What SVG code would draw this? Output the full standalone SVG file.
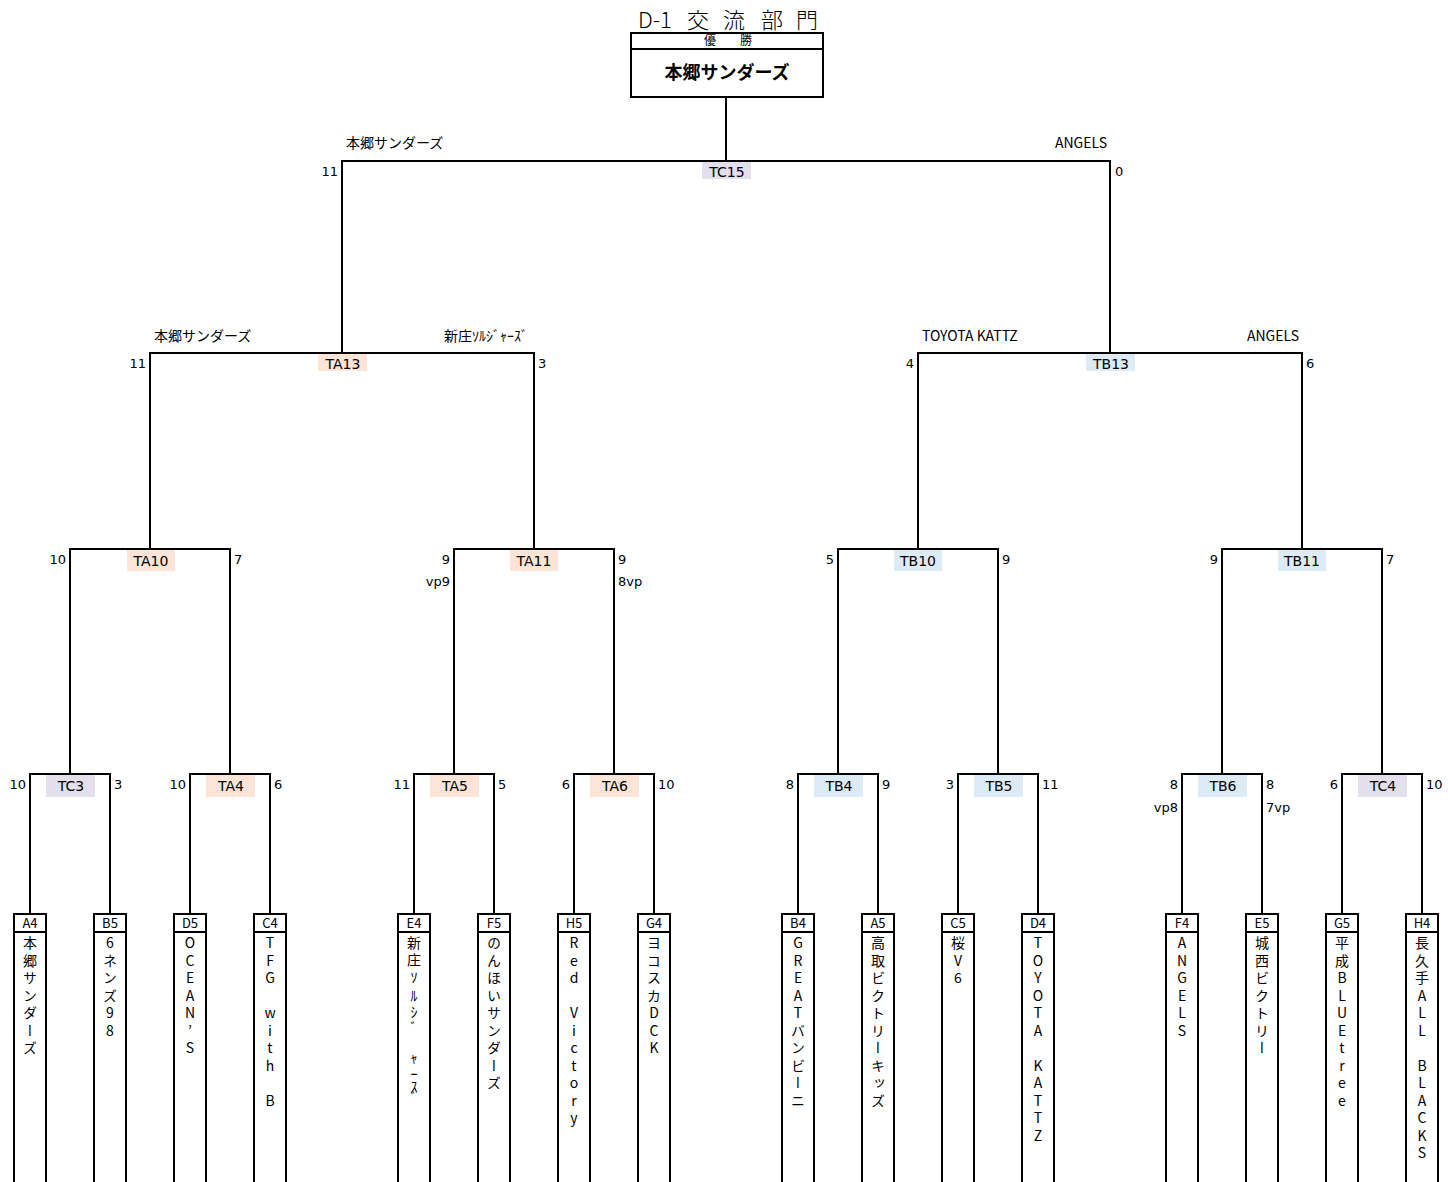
<svg xmlns="http://www.w3.org/2000/svg" width="1448" height="1182" viewBox="0 0 1448 1182">
<style>
.ln{fill:none;stroke:#000;stroke-width:2}
.ta{fill:#fce4d6}.tb{fill:#ddebf7}.tc{fill:#e4dfec}
.lb{font-family:"DejaVu Sans",Verdana,sans-serif;font-size:14px;text-anchor:middle;fill:#000}
.sc{font-family:"DejaVu Sans",Verdana,sans-serif;font-size:13px;fill:#000}
.scl{text-anchor:end}
.nm{font-family:"Noto Sans CJK JP",sans-serif;font-size:14px;fill:#000}
.nmr{text-anchor:end}
.hd{font-family:"Noto Sans CJK JP",sans-serif;font-size:13px;text-anchor:middle;fill:#000}
.vt{font-family:"Noto Sans CJK JP",sans-serif;font-size:14px;writing-mode:vertical-rl;text-orientation:upright;fill:#000}
</style>
<g id="title">
<text font-family="'Noto Sans CJK JP',sans-serif" font-size="22" font-weight="300" y="28"><tspan x="638">D-1 </tspan><tspan x="687">交 </tspan><tspan x="723">流 </tspan><tspan x="761">部 </tspan><tspan x="796">門</tspan></text>
</g>
<g id="champion">
<rect x="631" y="33" width="192" height="64" class="ln"/>
<line x1="631" y1="49" x2="823" y2="49" class="ln"/>
<text x="731" y="45" font-family="'Noto Sans CJK JP',sans-serif" font-size="12" text-anchor="middle" letter-spacing="6">優　勝</text>
<text x="727" y="79" font-family="'Noto Sans CJK JP',sans-serif" font-size="18" font-weight="bold" text-anchor="middle">本郷サンダーズ</text>
</g>
<g id="connectors" class="ln">
<path d="M726 97V161M342 353V161H1110V353"/>
<path d="M342 353H150V549M342 353H534V549"/>
<path d="M1110 353H918V549M1110 353H1302V549"/>
<path d="M150 549H70V774M150 549H230V774"/>
<path d="M534 549H454V774M534 549H614V774"/>
<path d="M918 549H838V774M918 549H998V774"/>
<path d="M1302 549H1222V774M1302 549H1382V774"/>
<path d="M70 774H30V914M70 774H110V914"/>
<path d="M230 774H190V914M230 774H270V914"/>
<path d="M454 774H414V914M454 774H494V914"/>
<path d="M614 774H574V914M614 774H654V914"/>
<path d="M838 774H798V914M838 774H878V914"/>
<path d="M998 774H958V914M998 774H1038V914"/>
<path d="M1222 774H1182V914M1222 774H1262V914"/>
<path d="M1382 774H1342V914M1382 774H1422V914"/>
</g>
<g id="TC15"><rect class="tc" x="702" y="162" width="49" height="17"/><text class="lb" x="727" y="177">TC15</text>
<text class="sc scl" x="338" y="176">11</text><text class="sc" x="1115" y="176">0</text>
<text class="nm" x="346" y="148">本郷サンダーズ</text><text class="nm nmr" x="1107" y="148">ANGELS</text></g>
<g id="TA13"><rect class="ta" x="318" y="354" width="49" height="17"/><text class="lb" x="343" y="369">TA13</text>
<text class="sc scl" x="146" y="368">11</text><text class="sc" x="538" y="368">3</text>
<text class="nm" x="154" y="341">本郷サンダーズ</text><text class="nm nmr" x="528" y="341">新庄ｿﾙｼﾞｬｰｽﾞ</text></g>
<g id="TB13"><rect class="tb" x="1086" y="354" width="49" height="17"/><text class="lb" x="1111" y="369">TB13</text>
<text class="sc scl" x="914" y="368">4</text><text class="sc" x="1306" y="368">6</text>
<text class="nm" x="922" y="341">TOYOTA KATTZ</text><text class="nm nmr" x="1299" y="341">ANGELS</text></g>
<g id="TA10"><rect class="ta" x="127" y="550" width="48" height="21"/><text class="lb" x="151" y="566">TA10</text>
<text class="sc scl" x="66" y="564">10</text><text class="sc" x="234" y="564">7</text></g>
<g id="TA11"><rect class="ta" x="510" y="550" width="48" height="21"/><text class="lb" x="534" y="566">TA11</text>
<text class="sc scl" x="450" y="564">9</text><text class="sc" x="618" y="564">9</text>
<text class="sc scl" x="450" y="586">vp9</text><text class="sc" x="618" y="586">8vp</text></g>
<g id="TB10"><rect class="tb" x="894" y="550" width="48" height="21"/><text class="lb" x="918" y="566">TB10</text>
<text class="sc scl" x="834" y="564">5</text><text class="sc" x="1002" y="564">9</text></g>
<g id="TB11"><rect class="tb" x="1278" y="550" width="48" height="21"/><text class="lb" x="1302" y="566">TB11</text>
<text class="sc scl" x="1218" y="564">9</text><text class="sc" x="1386" y="564">7</text></g>
<g id="TC3"><rect class="tc" x="46" y="775" width="49" height="22"/><text class="lb" x="71" y="791">TC3</text>
<text class="sc scl" x="26" y="789">10</text><text class="sc" x="114" y="789">3</text></g>
<g id="TA4"><rect class="ta" x="206" y="775" width="49" height="22"/><text class="lb" x="231" y="791">TA4</text>
<text class="sc scl" x="186" y="789">10</text><text class="sc" x="274" y="789">6</text></g>
<g id="TA5"><rect class="ta" x="430" y="775" width="49" height="22"/><text class="lb" x="455" y="791">TA5</text>
<text class="sc scl" x="410" y="789">11</text><text class="sc" x="498" y="789">5</text></g>
<g id="TA6"><rect class="ta" x="590" y="775" width="49" height="22"/><text class="lb" x="615" y="791">TA6</text>
<text class="sc scl" x="570" y="789">6</text><text class="sc" x="658" y="789">10</text></g>
<g id="TB4"><rect class="tb" x="814" y="775" width="49" height="22"/><text class="lb" x="839" y="791">TB4</text>
<text class="sc scl" x="794" y="789">8</text><text class="sc" x="882" y="789">9</text></g>
<g id="TB5"><rect class="tb" x="974" y="775" width="49" height="22"/><text class="lb" x="999" y="791">TB5</text>
<text class="sc scl" x="954" y="789">3</text><text class="sc" x="1042" y="789">11</text></g>
<g id="TB6"><rect class="tb" x="1198" y="775" width="49" height="22"/><text class="lb" x="1223" y="791">TB6</text>
<text class="sc scl" x="1178" y="789">8</text><text class="sc" x="1266" y="789">8</text>
<text class="sc scl" x="1178" y="812">vp8</text><text class="sc" x="1266" y="812">7vp</text></g>
<g id="TC4"><rect class="tc" x="1358" y="775" width="49" height="22"/><text class="lb" x="1383" y="791">TC4</text>
<text class="sc scl" x="1338" y="789">6</text><text class="sc" x="1426" y="789">10</text></g>
<g id="A4"><path class="ln" d="M14 1182V914H46V1182M14 932H46"/><text class="hd" x="30" y="928">A4</text><text class="vt" x="30" y="936 953.5 971 988.5 1006 1023.5 1041">本郷サンダーズ</text></g>
<g id="B5"><path class="ln" d="M94 1182V914H126V1182M94 932H126"/><text class="hd" x="110" y="928">B5</text><text class="vt" x="110" y="936 953.5 971 988.5 1006 1023.5">6ネンズ98</text></g>
<g id="D5"><path class="ln" d="M174 1182V914H206V1182M174 932H206"/><text class="hd" x="190" y="928">D5</text><text class="vt" x="190" y="936 953.5 971 988.5 1006 1023.5 1041">OCEAN’S</text></g>
<g id="C4"><path class="ln" d="M254 1182V914H286V1182M254 932H286"/><text class="hd" x="270" y="928">C4</text><text class="vt" x="270" y="936 953.5 971 988.5 1006 1023.5 1041 1058.5 1076 1093.5">TFG with B</text></g>
<g id="E4"><path class="ln" d="M398 1182V914H430V1182M398 932H430"/><text class="hd" x="414" y="928">E4</text><text class="vt" x="414" y="936 953 970 989 1005 1021 1051 1067 1080 1091">新庄ｿﾙｼﾞｬｰｽﾞ</text></g>
<g id="F5"><path class="ln" d="M478 1182V914H510V1182M478 932H510"/><text class="hd" x="494" y="928">F5</text><text class="vt" x="494" y="936 953.5 971 988.5 1006 1023.5 1041 1058.5 1076">のんほいサンダーズ</text></g>
<g id="H5"><path class="ln" d="M558 1182V914H590V1182M558 932H590"/><text class="hd" x="574" y="928">H5</text><text class="vt" x="574" y="936 953.5 971 988.5 1006 1023.5 1041 1058.5 1076 1093.5 1111">Red Victory</text></g>
<g id="G4"><path class="ln" d="M638 1182V914H670V1182M638 932H670"/><text class="hd" x="654" y="928">G4</text><text class="vt" x="654" y="936 953.5 971 988.5 1006 1023.5 1041">ヨコスカDCK</text></g>
<g id="B4"><path class="ln" d="M782 1182V914H814V1182M782 932H814"/><text class="hd" x="798" y="928">B4</text><text class="vt" x="798" y="936 953.5 971 988.5 1006 1023.5 1041 1058.5 1076 1093.5">GREATバンビーニ</text></g>
<g id="A5"><path class="ln" d="M862 1182V914H894V1182M862 932H894"/><text class="hd" x="878" y="928">A5</text><text class="vt" x="878" y="936 953.5 971 988.5 1006 1023.5 1041 1058.5 1076 1093.5">高取ビクトリーキッズ</text></g>
<g id="C5"><path class="ln" d="M942 1182V914H974V1182M942 932H974"/><text class="hd" x="958" y="928">C5</text><text class="vt" x="958" y="936 953.5 971">桜V6</text></g>
<g id="D4"><path class="ln" d="M1022 1182V914H1054V1182M1022 932H1054"/><text class="hd" x="1038" y="928">D4</text><text class="vt" x="1038" y="936 953.5 971 988.5 1006 1023.5 1041 1058.5 1076 1093.5 1111 1128.5">TOYOTA KATTZ</text></g>
<g id="F4"><path class="ln" d="M1166 1182V914H1198V1182M1166 932H1198"/><text class="hd" x="1182" y="928">F4</text><text class="vt" x="1182" y="936 953.5 971 988.5 1006 1023.5">ANGELS</text></g>
<g id="E5"><path class="ln" d="M1246 1182V914H1278V1182M1246 932H1278"/><text class="hd" x="1262" y="928">E5</text><text class="vt" x="1262" y="936 953.5 971 988.5 1006 1023.5 1041">城西ビクトリー</text></g>
<g id="G5"><path class="ln" d="M1326 1182V914H1358V1182M1326 932H1358"/><text class="hd" x="1342" y="928">G5</text><text class="vt" x="1342" y="936 953.5 971 988.5 1006 1023.5 1041 1058.5 1076 1093.5">平成BLUEtree</text></g>
<g id="H4"><path class="ln" d="M1406 1182V914H1438V1182M1406 932H1438"/><text class="hd" x="1422" y="928">H4</text><text class="vt" x="1422" y="936 953.5 971 988.5 1006 1023.5 1041 1058.5 1076 1093.5 1111 1128.5 1146">長久手ALL BLACKS</text></g>
</svg>
